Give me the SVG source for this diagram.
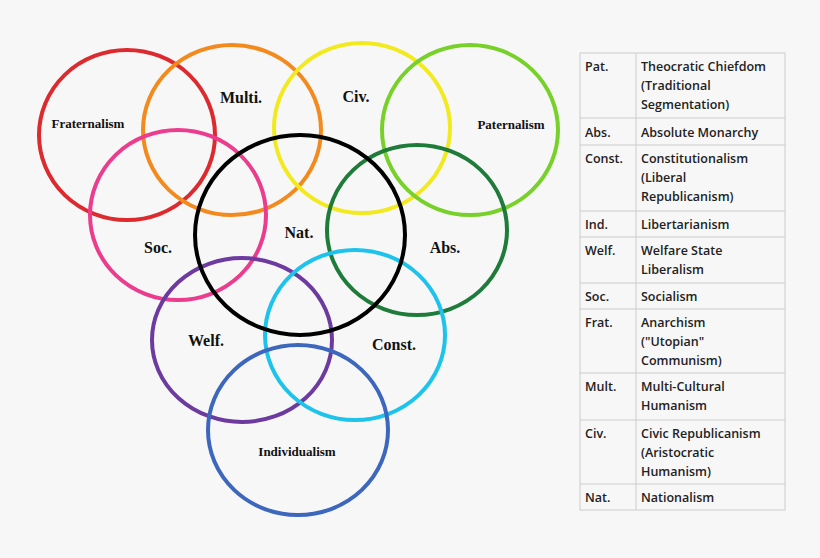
<svg xmlns="http://www.w3.org/2000/svg" width="820" height="558" viewBox="0 0 820 558">
<style>
.c{fill:none;stroke-width:4}
.l{font-family:"Liberation Serif",serif;font-weight:bold;font-size:16px;text-anchor:middle;fill:#111}
.s{font-size:13px}
.t{font-family:"Open Sans","DejaVu Sans",sans-serif;font-weight:600;font-size:12.5px;fill:#222}
.g{stroke:#ccc;stroke-width:1;fill:none}
</style>
<rect width="820" height="558" fill="#f7f7f7"/>
<g id="frat"><ellipse class="c" cx="127" cy="135" rx="88" ry="85" stroke="#dd2a2e"/><text class="l s" x="88" y="128">Fraternalism</text></g>
<g id="multi"><ellipse class="c" cx="232" cy="130" rx="89" ry="85" stroke="#f28a1e"/><text class="l" x="241" y="103">Multi.</text></g>
<g id="civ"><ellipse class="c" cx="362" cy="128" rx="88" ry="85" stroke="#f3e91f"/><text class="l" x="356" y="102">Civ.</text></g>
<g id="pat"><ellipse class="c" cx="470" cy="130" rx="88" ry="85" stroke="#78d12a"/><text class="l s" x="511" y="129">Paternalism</text></g>
<g id="soc"><ellipse class="c" cx="178" cy="215" rx="88" ry="85" stroke="#ec3c8d"/><text class="l" x="158" y="253">Soc.</text></g>
<g id="abs"><ellipse class="c" cx="417" cy="230" rx="90" ry="85" stroke="#1e7b3a"/><text class="l" x="445" y="253">Abs.</text></g>
<g id="welf"><ellipse class="c" cx="242" cy="340" rx="90" ry="82" stroke="#6d3aa0"/><text class="l" x="206" y="346">Welf.</text></g>
<g id="const"><ellipse class="c" cx="355" cy="335" rx="90" ry="85" stroke="#1ec3ec"/><text class="l" x="394" y="350">Const.</text></g>
<g id="ind"><ellipse class="c" cx="298" cy="430" rx="90" ry="85" stroke="#3d66bd"/><text class="l s" x="297" y="456">Individualism</text></g>
<g id="nat"><ellipse class="c" cx="300" cy="235" rx="105" ry="100" stroke="#000"/><text class="l" x="299" y="238">Nat.</text></g>
<g id="table">
<rect x="580" y="53" width="205" height="457" fill="#fff" class="g"/>
<path class="g" d="M636 53V510M580 118H785M580 145H785M580 211H785M580 237H785M580 283H785M580 309H785M580 373H785M580 420H785M580 484H785"/>
<g class="t">
<text x="585" y="71">Pat.</text><text x="641" y="71">Theocratic Chiefdom</text><text x="641" y="90">(Traditional</text><text x="641" y="109">Segmentation)</text>
<text x="585" y="137">Abs.</text><text x="641" y="137">Absolute Monarchy</text>
<text x="585" y="163">Const.</text><text x="641" y="163">Constitutionalism</text><text x="641" y="182">(Liberal</text><text x="641" y="201">Republicanism)</text>
<text x="585" y="229">Ind.</text><text x="641" y="229">Libertarianism</text>
<text x="585" y="255">Welf.</text><text x="641" y="255">Welfare State</text><text x="641" y="274">Liberalism</text>
<text x="585" y="301">Soc.</text><text x="641" y="301">Socialism</text>
<text x="585" y="327">Frat.</text><text x="641" y="327">Anarchism</text><text x="641" y="346">("Utopian"</text><text x="641" y="365">Communism)</text>
<text x="585" y="391">Mult.</text><text x="641" y="391">Multi-Cultural</text><text x="641" y="410">Humanism</text>
<text x="585" y="438">Civ.</text><text x="641" y="438">Civic Republicanism</text><text x="641" y="457">(Aristocratic</text><text x="641" y="476">Humanism)</text>
<text x="585" y="502">Nat.</text><text x="641" y="502">Nationalism</text>
</g></g>
</svg>
